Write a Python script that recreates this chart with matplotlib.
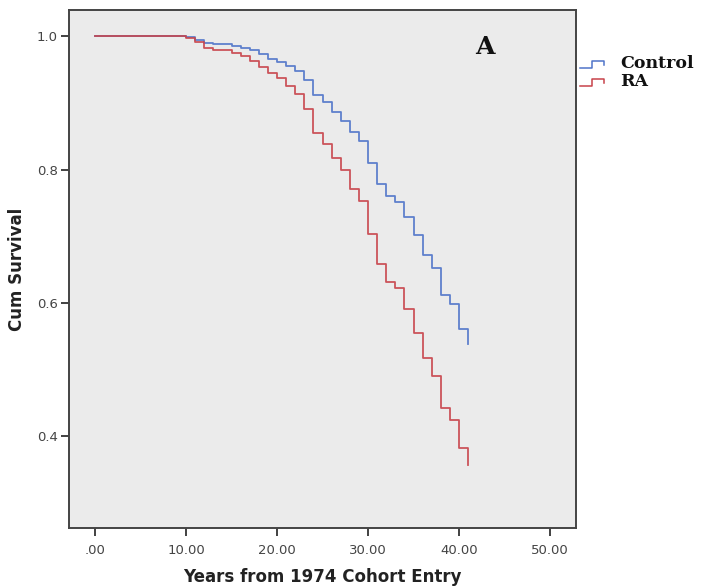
import matplotlib
matplotlib.use("Agg")
import matplotlib.pyplot as plt
from matplotlib.lines import Line2D

# Data
years = [0, 10, 11, 12, 13, 15, 16, 17, 18, 19, 20, 21, 22, 23, 24, 25, 26,
         27, 28, 29, 30, 31, 32, 33, 34, 35, 36, 37, 38, 39, 40, 41]
control = [1.000, 0.999, 0.995, 0.990, 0.988, 0.986, 0.983, 0.979, 0.974,
           0.966, 0.961, 0.955, 0.948, 0.934, 0.912, 0.901, 0.886, 0.873,
           0.856, 0.843, 0.810, 0.778, 0.760, 0.752, 0.729, 0.702, 0.672,
           0.652, 0.612, 0.598, 0.561, 0.538]
ra = [1.000, 0.997, 0.991, 0.983, 0.979, 0.975, 0.970, 0.963, 0.954,
      0.945, 0.937, 0.926, 0.914, 0.891, 0.855, 0.838, 0.817, 0.799,
      0.771, 0.753, 0.704, 0.658, 0.632, 0.622, 0.591, 0.555, 0.517,
      0.491, 0.442, 0.425, 0.382, 0.357]
series_names = ["Control", "RA"]
xticks = [0, 10, 20, 30, 40, 50]
xticklabels = [".00", "10.00", "20.00", "30.00", "40.00", "50.00"]
yticks = [0.4, 0.6, 0.8, 1.0]
yticklabels = ["0.4", "0.6", "0.8", "1.0"]

blue = "#4f74c9"
red = "#c8434a"

fig = plt.figure(figsize=(7.02, 5.88), dpi=100)
ax = fig.add_axes([69/702, 1 - 528.3/588, (575.7 - 69)/702, (528.3 - 10)/588])
ax.set_facecolor("#ebebeb")

ax.plot(years, control, drawstyle="steps-post", color=blue, lw=1.3, alpha=0.9)
ax.plot(years, ra, drawstyle="steps-post", color=red, lw=1.3, alpha=0.9)

ax.set_xlim(-2.86, 52.82)
ax.set_ylim(0.262, 1.0395)

ax.set_xticks(xticks)
ax.set_xticklabels(xticklabels)
ax.set_yticks(yticks)
ax.set_yticklabels(yticklabels)
ax.tick_params(axis="both", direction="out", length=6, width=1.3,
               color="#333333", labelcolor="#444444", labelsize=9.5)
ax.tick_params(axis="x", pad=5)
ax.tick_params(axis="y", pad=2)
for s in ax.spines.values():
    s.set_color("#444444")
    s.set_linewidth(1.4)

ax.set_xlabel("Years from 1974 Cohort Entry", fontsize=12, fontweight="bold",
              color="#222222", labelpad=8)
ax.set_ylabel("Cum Survival", fontsize=12, fontweight="bold",
              color="#222222", labelpad=8)

ax.text(0.821, 0.929, "A", transform=ax.transAxes, fontsize=18,
        fontweight="bold", family="DejaVu Serif", ha="center", va="center",
        color="#111111")

# legend with step-shaped handles drawn in figure coords
lx0 = 580 / 702
handle_w = 24 / 702
for i, (name, col) in enumerate(zip(series_names, [blue, red])):
    yc = 1 - (64 + i * 18) / 588
    xs = [lx0, lx0 + handle_w * 0.5, lx0 + handle_w * 0.5, lx0 + handle_w,
          lx0 + handle_w]
    dy = 7 / 588
    ys = [yc - dy / 2, yc - dy / 2, yc + dy / 2, yc + dy / 2, yc - dy / 6]
    fig.add_artist(Line2D(xs, ys, color=col, lw=1.1, transform=fig.transFigure))
    fig.text(lx0 + 40 / 702, yc + 1 / 588, name, fontsize=12.5, fontweight="bold",
             family="DejaVu Serif", ha="left", va="center", color="#111111")

fig.savefig("out.png", dpi=100)
